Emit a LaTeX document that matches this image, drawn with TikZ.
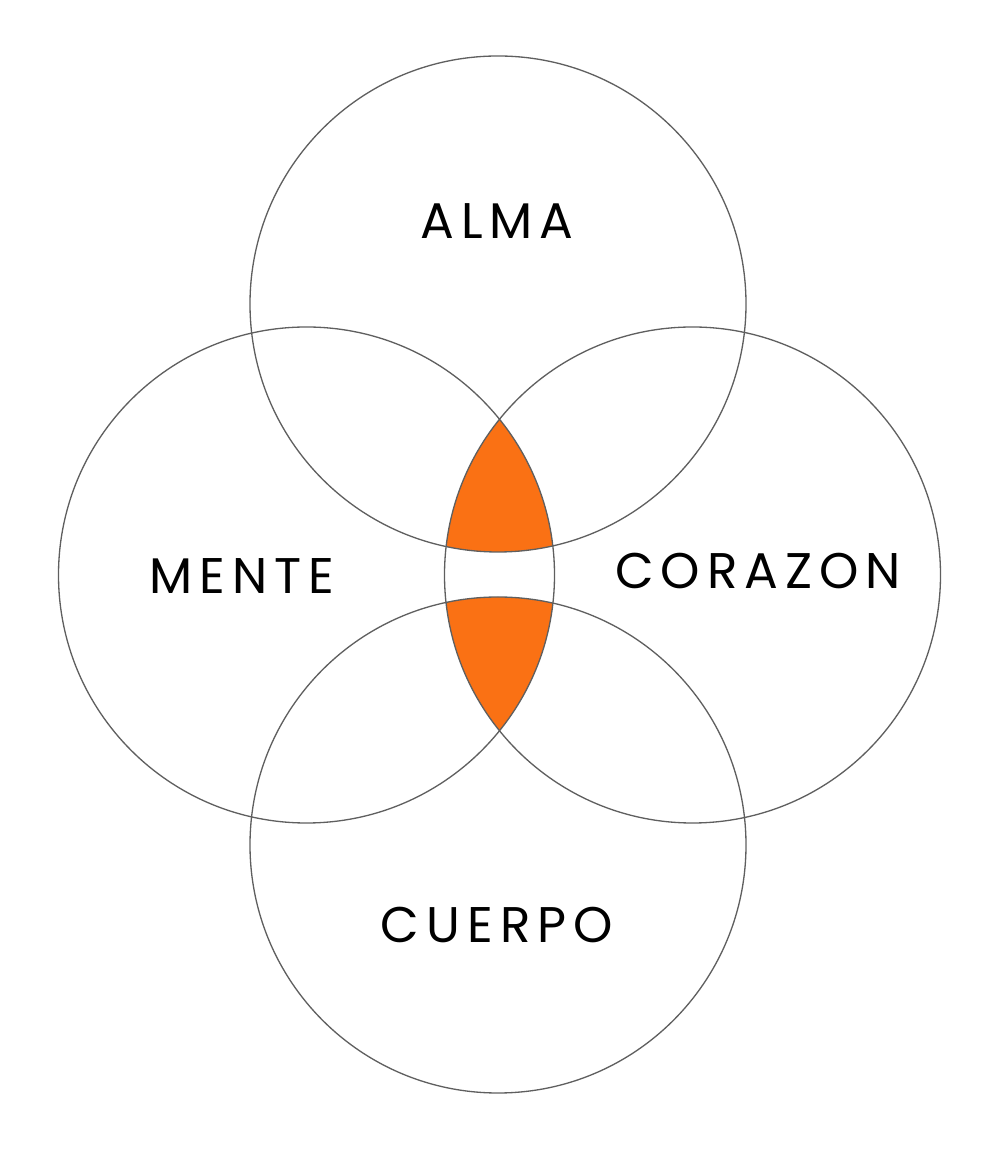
\documentclass[tikz,border=0pt]{standalone}
\usepackage{fontspec}
\setmainfont{Poppins}[LetterSpace=14]
\definecolor{venorange}{RGB}{250,113,20}
\definecolor{venline}{RGB}{95,95,95}
\tikzset{
    ring/.style={draw=venline, line width=0.75pt},
    word/.style={inner sep=0pt, font=\fontsize{28.5}{34}\selectfont}
}
\begin{document}
\begin{tikzpicture}
    \useasboundingbox (0,0) rectangle (19.98,23.06);
    \coordinate (alma) at (9.96,16.98);
    \coordinate (mente) at (6.13,11.56);
    \coordinate (corazon) at (13.85,11.56);
    \coordinate (cuerpo) at (9.96,6.16);
    % shaded lenses
    \foreach \c in {alma,cuerpo} {
        \begin{scope}
            \clip (mente) circle (4.96);
            \clip (corazon) circle (4.96);
            \fill[venorange] (\c) circle (4.96);
        \end{scope}
    }
    \foreach \c in {alma,mente,corazon,cuerpo} {
        \draw[ring] (\c) circle (4.96);
    }
    \node[word] (almatxt) at (9.94,18.64) {ALMA};
    \node[word] (mentetxt) at (4.84,11.54) {MENTE};
    \node[word] (corazontxt) at (15.16,11.64) {CORAZON};
    \node[word] (cuerpotxt) at (9.94,4.56) {CUERPO};
\end{tikzpicture}
\end{document}
